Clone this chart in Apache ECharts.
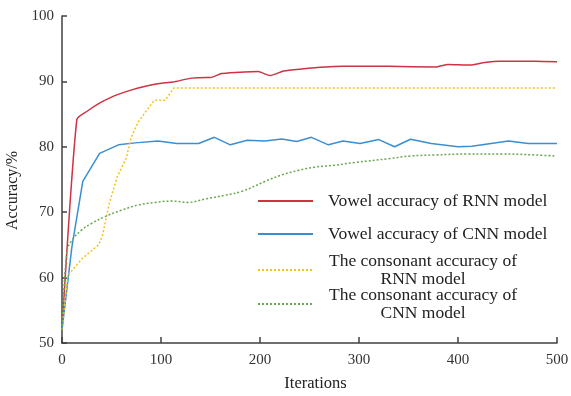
<!DOCTYPE html>
<html><head><meta charset="utf-8">
<script src="https://cdn.jsdelivr.net/npm/echarts@6/dist/echarts.min.js"></script>
<style>html,body{margin:0;padding:0;background:#fff}#c{width:571px;height:396px}</style>
</head><body><div id="c"></div>
<script>
const seriesNames = ['Vowel accuracy of RNN model','Vowel accuracy of CNN model','The consonant accuracy of RNN model','The consonant accuracy of CNN model'];
const xTicks = [0,100,200,300,400,500];
const yTicks = [50,60,70,80,90,100];

const rnnVowelIter = [0,15,25,37,50,64,77,91,104,112,131,146,150,161,168,198,210,224,242,266,283,330,377,390,412,427,442,478,500];
const rnnVowelAcc  = [52,84.2,85.4,86.6,87.6,88.4,89.0,89.5,89.8,89.9,90.5,90.6,90.6,91.2,91.3,91.5,90.9,91.6,91.9,92.2,92.3,92.3,92.2,92.6,92.5,92.9,93.1,93.1,93.0];

const cnnVowelIter = [0,10,21,38,57,74,97,116,138,154,170,187,205,222,237,252,269,284,301,320,336,352,373,400,414,451,471,500];
const cnnVowelAcc  = [52,64.7,74.7,79.0,80.3,80.6,80.9,80.5,80.5,81.45,80.3,81.0,80.9,81.2,80.8,81.45,80.3,80.9,80.5,81.1,80.0,81.15,80.5,80.0,80.1,80.9,80.5,80.5];

const rnnConsIter = [0,6,21,37,41,48,56,65,70,77,93,104,113,498];
const rnnConsAcc  = [52,60.4,63.0,65.0,66.5,71.5,75.5,78.3,81.5,83.8,87.1,87.1,89.0,89.0];

const cnnConsIter = [0,5,10,20,30,43,60,77,94,111,128,144,165,182,205,222,239,256,276,296,331,352,377,410,444,478,498];
const cnnConsAcc  = [52,64.0,65.7,67.3,68.3,69.3,70.3,71.1,71.5,71.7,71.5,72.0,72.6,73.2,74.7,75.7,76.4,76.9,77.2,77.6,78.2,78.6,78.75,78.9,78.9,78.75,78.6];

const colors = ['#cc3343','#3a8fd3','#f5c21b','#6aa84f'];
const font = 'Liberation Serif';
const zip = (a,b) => a.map((v,i)=>[v,b[i]]);

const legendTops = [187, 220, 247, 281];
const legendTexts = [
  '{s|Vowel accuracy of RNN model}',
  '{s|Vowel accuracy of CNN model}',
  '{c|The consonant accuracy of}\n{c|RNN model}',
  '{c|The consonant accuracy of}\n{c|CNN model}'
];
const legends = seriesNames.map((n,i)=>({
  data:[n], left:252, top:legendTops[i], itemWidth:55, itemHeight:14, itemGap:0,
  itemStyle:{opacity:0}, selectedMode:false,
  formatter:()=>legendTexts[i],
  textStyle:{fontFamily:font,fontSize:17.5,color:'#222',padding:[0,0,0,10],
    rich:{s:{fontFamily:font,fontSize:17.5,color:'#222',lineHeight:18},
          c:{fontFamily:font,fontSize:17.5,color:'#222',lineHeight:18,width:190,align:'center'}}}
}));

const mk = (name, it, acc, i, dotted, smooth) => ({
  name, type:'line', data: zip(it,acc), symbol:'none', smooth: smooth,
  lineStyle:{color:colors[i], width:1.5, type: dotted?[2,2]:'solid'},
  itemStyle:{color:colors[i]}, animation:false
});

const chart = echarts.init(document.getElementById('c'), null, {renderer:'canvas'});
chart.setOption({
  animation:false,
  grid:{left:62,right:14,top:16,bottom:53,containLabel:false,outerBoundsMode:'none'},
  legend: legends,
  xAxis:{type:'value',min:0,max:500,interval:100,
    name:'Iterations',nameLocation:'middle',nameGap:32,
    nameTextStyle:{fontFamily:font,fontSize:16.5,color:'#222',padding:[0,0,0,12]},
    axisLine:{lineStyle:{color:'#404040',width:1.5}},
    axisTick:{show:true,inside:true,length:6,lineStyle:{color:'#404040',width:1.5}},
    axisLabel:{fontFamily:font,fontSize:15,color:'#333',margin:10,
      formatter:v=>xTicks.includes(v)?String(v):''},
    splitLine:{show:false}},
  yAxis:{type:'value',min:50,max:100,interval:10,
    name:'Accuracy/%',nameLocation:'middle',nameGap:27,nameRotate:90,
    nameTextStyle:{fontFamily:font,fontSize:16,color:'#222',padding:[12,22,0,0]},
    axisLine:{show:true,lineStyle:{color:'#404040',width:1.5}},
    axisTick:{show:true,inside:true,length:5,lineStyle:{color:'#404040',width:1.5}},
    axisLabel:{fontFamily:font,fontSize:15,color:'#333',margin:8,
      formatter:v=>yTicks.includes(v)?String(v):''},
    splitLine:{show:false}},
  series:[
    mk(seriesNames[0], rnnVowelIter, rnnVowelAcc, 0, false, 0.2),
    mk(seriesNames[1], cnnVowelIter, cnnVowelAcc, 1, false, false),
    mk(seriesNames[2], rnnConsIter, rnnConsAcc, 2, true, false),
    mk(seriesNames[3], cnnConsIter, cnnConsAcc, 3, true, 0.4)
  ]
});
</script></body></html>
